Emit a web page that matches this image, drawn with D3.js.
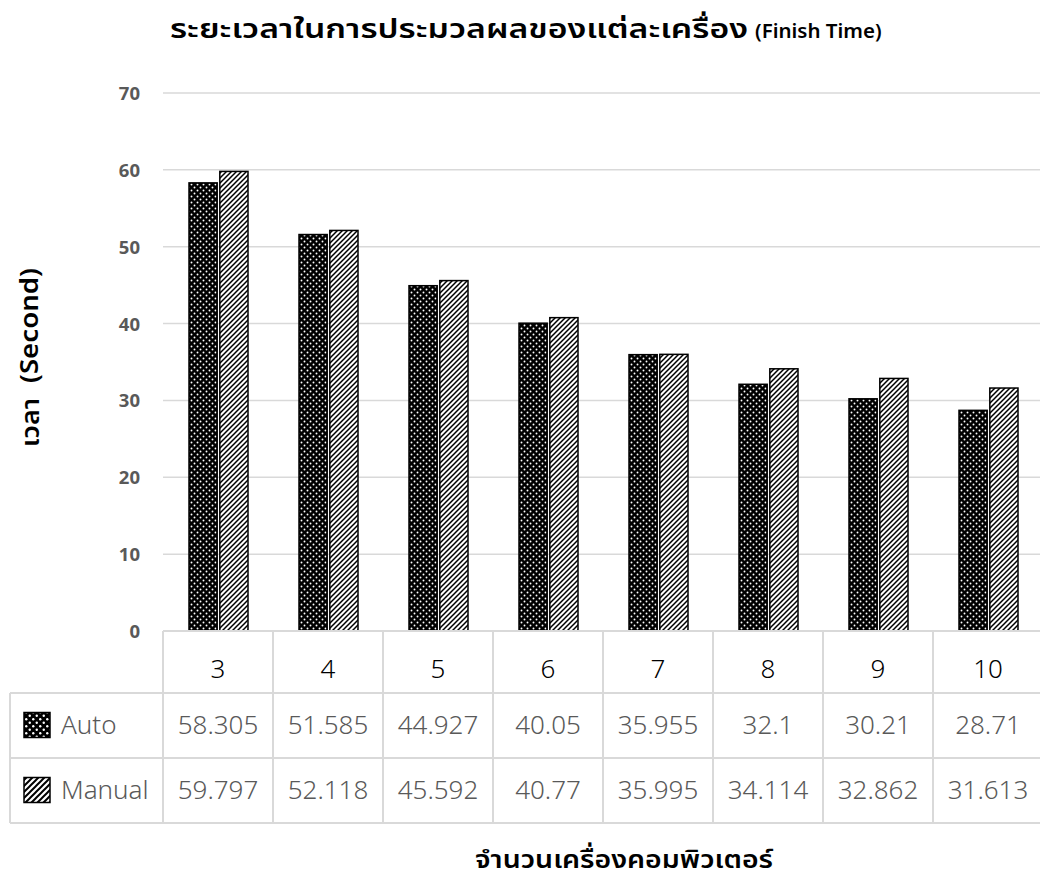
<!DOCTYPE html>
<html>
<head>
<meta charset="utf-8">
<script src="https://cdn.jsdelivr.net/npm/d3@7"></script>
<style>
  html, body { margin: 0; padding: 0; background: #fff; }
  svg { display: block; }
  text { font-family: "Noto Sans Thai", "Noto Sans", "DejaVu Sans", sans-serif; }
</style>
</head>
<body>
<svg id="chart" width="1040" height="887"></svg>
<script>
// Number of computers on the x axis
const categories = ["3", "4", "5", "6", "7", "8", "9", "10"];
const seriesNames = ["Auto", "Manual"];
// Finish time in seconds for each series
const autoValues   = [58.305, 51.585, 44.927, 40.05, 35.955, 32.1, 30.21, 28.71];
const manualValues = [59.797, 52.118, 45.592, 40.77, 35.995, 34.114, 32.862, 31.613];
const yTicks = [0, 10, 20, 30, 40, 50, 60, 70];

const titleThai = "ระยะเวลาในการประมวลผลของแต่ละเครื่อง";
const titleLatin = "(Finish Time)";
const yTitleThai = "เวลา";
const yTitleLatin = "(Second)";
const xTitleText = "จำนวนเครื่องคอมพิวเตอร์";

const series = [autoValues, manualValues];
const W = 1040, H = 887;
const plot = { left: 163, right: 1043, top: 93, bottom: 631 };
const svg = d3.select("#chart");

// Fill patterns: white dots on black, and black diagonal hatching on white
const defs = svg.append("defs");
const dots = defs.append("pattern").attr("id", "pat-auto")
  .attr("patternUnits", "userSpaceOnUse").attr("width", 6).attr("height", 6);
dots.append("rect").attr("width", 6).attr("height", 6).attr("fill", "#000");
dots.append("circle").attr("cx", 1.5).attr("cy", 1.5).attr("r", 0.95).attr("fill", "#fff");
dots.append("circle").attr("cx", 4.5).attr("cy", 4.5).attr("r", 0.95).attr("fill", "#fff");

const hatch = defs.append("pattern").attr("id", "pat-manual")
  .attr("patternUnits", "userSpaceOnUse").attr("width", 5).attr("height", 5);
hatch.append("rect").attr("width", 5).attr("height", 5).attr("fill", "#fff");
hatch.append("path").attr("d", "M-1,6 L6,-1 M-1,1 L1,-1 M4,6 L6,4")
  .attr("stroke", "#000").attr("stroke-width", 1.5);

// Larger versions of the same fills for the legend keys
const dotsL = defs.append("pattern").attr("id", "pat-auto-key")
  .attr("patternUnits", "userSpaceOnUse").attr("width", 7).attr("height", 7);
dotsL.append("rect").attr("width", 7).attr("height", 7).attr("fill", "#000");
dotsL.append("circle").attr("cx", 1.75).attr("cy", 1.75).attr("r", 1.2).attr("fill", "#fff");
dotsL.append("circle").attr("cx", 5.25).attr("cy", 5.25).attr("r", 1.2).attr("fill", "#fff");
const hatchL = defs.append("pattern").attr("id", "pat-manual-key")
  .attr("patternUnits", "userSpaceOnUse").attr("width", 6).attr("height", 6);
hatchL.append("rect").attr("width", 6).attr("height", 6).attr("fill", "#fff");
hatchL.append("path").attr("d", "M-1,7 L7,-1 M-1,1 L1,-1 M5,7 L7,5")
  .attr("stroke", "#000").attr("stroke-width", 2);

const fills = ["url(#pat-auto)", "url(#pat-manual)"];
const keyFills = ["url(#pat-auto-key)", "url(#pat-manual-key)"];

// Scales
const x = d3.scaleBand().domain(categories).range([plot.left, plot.right]);
const xInner = d3.scaleBand().domain(seriesNames).range([26, 110 - 25]).paddingInner(0.085);
const y = d3.scaleLinear().domain([0, 70]).range([plot.bottom, plot.top]);

// Gridlines
svg.append("g").selectAll("line").data(yTicks).join("line")
  .attr("x1", plot.left).attr("x2", W)
  .attr("y1", d => y(d)).attr("y2", d => y(d))
  .attr("stroke", "#d9d9d9").attr("stroke-width", 1.5);

// Y axis tick labels
const yAxis = d3.axisLeft(y).tickValues(yTicks).tickSize(0).tickPadding(0);
const yg = svg.append("g").attr("transform", `translate(140,0)`).call(yAxis);
yg.select(".domain").remove();
yg.selectAll("text")
  .attr("fill", "#595959").attr("font-size", 18.5).attr("font-weight", 700)
  .style("font-family", "'Open Sans', 'Noto Sans', sans-serif")
  .attr("dy", "0.35em");

// Bars
const groups = svg.append("g").selectAll("g").data(categories).join("g")
  .attr("transform", d => `translate(${x(d)},0)`);
groups.selectAll("rect")
  .data((c, i) => seriesNames.map((s, k) => ({ s, k, v: series[k][i] })))
  .join("rect")
  .attr("x", d => xInner(d.s))
  .attr("width", xInner.bandwidth())
  .attr("y", d => y(d.v))
  .attr("height", d => y(0) - y(d.v))
  .attr("fill", d => fills[d.k])
  .attr("stroke", "#000").attr("stroke-width", 1.5);

// Data table below the plot
const rowTop = plot.bottom, headH = 62, rowH = 65;
const table = svg.append("g");
const lineColor = "#d9d9d9";
[rowTop, rowTop + headH, rowTop + headH + rowH, rowTop + headH + 2 * rowH].forEach((yy, i) => {
  table.append("line")
    .attr("x1", i === 0 ? plot.left : 10).attr("x2", W)
    .attr("y1", yy).attr("y2", yy)
    .attr("stroke", lineColor).attr("stroke-width", 2);
});
table.append("line").attr("x1", 10).attr("x2", 10)
  .attr("y1", rowTop + headH).attr("y2", rowTop + headH + 2 * rowH)
  .attr("stroke", lineColor).attr("stroke-width", 2);
categories.forEach(c => {
  table.append("line").attr("x1", x(c)).attr("x2", x(c))
    .attr("y1", rowTop).attr("y2", rowTop + headH + 2 * rowH)
    .attr("stroke", lineColor).attr("stroke-width", 2);
});
// category header
table.selectAll("text.cat").data(categories).join("text").attr("class", "cat")
  .attr("x", d => x(d) + x.bandwidth() / 2)
  .attr("y", rowTop + 47)
  .attr("text-anchor", "middle")
  .attr("font-size", 26).attr("font-weight", 300).attr("fill", "#000")
  .text(d => d);
// series rows
seriesNames.forEach((s, k) => {
  const cy = rowTop + headH + rowH * k + rowH / 2;
  table.append("rect").attr("x", 24).attr("y", cy - 13).attr("width", 26).attr("height", 25)
    .attr("fill", keyFills[k]).attr("stroke", "#000").attr("stroke-width", 1.5);
  table.append("text").attr("x", 61).attr("y", cy + 8)
    .attr("font-size", 26).attr("font-weight", 300).attr("fill", "#595959").text(s);
  table.selectAll(`text.v${k}`).data(series[k]).join("text").attr("class", `v${k}`)
    .attr("x", (d, i) => x(categories[i]) + x.bandwidth() / 2)
    .attr("y", cy + 8)
    .attr("text-anchor", "middle")
    .attr("font-size", 26).attr("font-weight", 300).attr("fill", "#595959")
    .text(d => String(d));
});

// Chart title: Thai part and the English part in brackets
svg.append("text").attr("x", 170).attr("y", 38)
  .attr("font-size", 26).attr("font-weight", 600).attr("fill", "#000")
  .attr("textLength", 578).attr("lengthAdjust", "spacingAndGlyphs")
  .text(titleThai);
svg.append("text").attr("x", 755).attr("y", 38)
  .attr("font-size", 20.5).attr("font-weight", 600).attr("fill", "#000")
  .style("font-family", "'Noto Sans', sans-serif")
  .text(titleLatin);

// Y axis title (rotated)
svg.append("text").attr("transform", "translate(39,447) rotate(-90)")
  .attr("font-size", 25).attr("font-weight", 600).attr("fill", "#000")
  .attr("textLength", 49).attr("lengthAdjust", "spacingAndGlyphs")
  .text(yTitleThai);
svg.append("text").attr("transform", "translate(38,383) rotate(-90)")
  .attr("font-size", 26).attr("font-weight", 600).attr("fill", "#000")
  .style("font-family", "'Noto Sans', sans-serif")
  .attr("textLength", 115).attr("lengthAdjust", "spacingAndGlyphs")
  .text(yTitleLatin);

// X axis title
svg.append("text").attr("x", 475).attr("y", 868)
  .attr("font-size", 25).attr("font-weight", 600).attr("fill", "#000")
  .attr("textLength", 298).attr("lengthAdjust", "spacingAndGlyphs")
  .text(xTitleText);
</script>
</body>
</html>
